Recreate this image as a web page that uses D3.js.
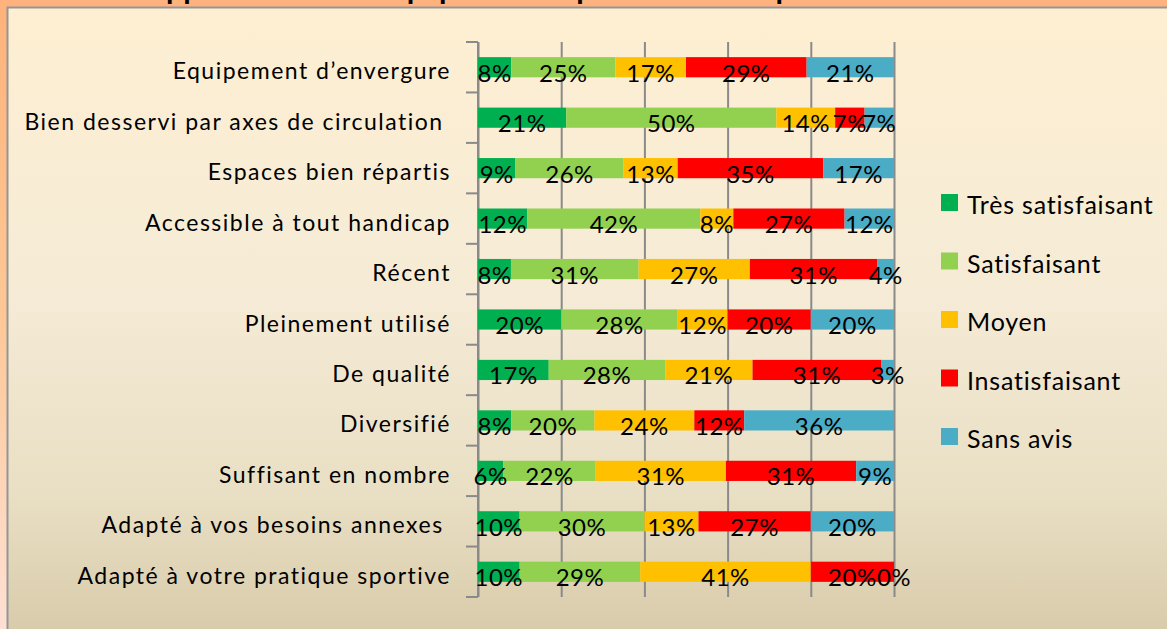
<!DOCTYPE html>
<html>
<head>
<meta charset="utf-8">
<script src="https://cdn.jsdelivr.net/npm/d3@7"></script>
<style>
  html, body { margin: 0; padding: 0; background: #fdb47e; }
  svg { display: block; }
  text { font-family: Lato, "Open Sans", sans-serif; }
</style>
</head>
<body>
<svg id="chart" width="1167" height="629"></svg>
<script>
// ---- data ----
const categories = [
  "Equipement d\u2019envergure",
  "Bien desservi par axes de circulation ",
  "Espaces bien répartis",
  "Accessible à tout handicap",
  "Récent",
  "Pleinement utilisé",
  "De qualité",
  "Diversifié",
  "Suffisant en nombre",
  "Adapté à vos besoins annexes ",
  "Adapté à votre pratique sportive"
];
const seriesNames = ["Très satisfaisant", "Satisfaisant", "Moyen", "Insatisfaisant", "Sans avis"];
const tresSatisfaisant = [8, 21, 9, 12, 8, 20, 17, 8, 6, 10, 10];
const satisfaisant     = [25, 50, 26, 42, 31, 28, 28, 20, 22, 30, 29];
const moyen            = [17, 14, 13, 8, 27, 12, 21, 24, 31, 13, 41];
const insatisfaisant   = [29, 7, 35, 27, 31, 20, 31, 12, 31, 27, 20];
const sansAvis         = [21, 7, 17, 12, 4, 20, 3, 36, 9, 20, 0];
const gridTicks = [0, 0.2, 0.4, 0.6, 0.8, 1];
const title = "Appréciation des équipements sportifs utilisés par les associations";

const colors = ["#00b050", "#92d050", "#ffc000", "#ff0000", "#4bacc6"];
const seriesValues = [tresSatisfaisant, satisfaisant, moyen, insatisfaisant, sansAvis];

const rows = categories.map((c, i) => {
  const r = { cat: c };
  seriesNames.forEach((s, j) => r[s] = seriesValues[j][i]);
  return r;
});

const svg = d3.select("#chart");
const W = 1167, H = 629;

// ---- backgrounds ----
const defs = svg.append("defs");
const og = defs.append("linearGradient").attr("id", "outerG").attr("x1", 0).attr("y1", 0).attr("x2", 0).attr("y2", 1);
og.append("stop").attr("offset", "0%").attr("stop-color", "#fdb27b");
og.append("stop").attr("offset", "50%").attr("stop-color", "#fdc896");
og.append("stop").attr("offset", "100%").attr("stop-color", "#fde0d4");
const pg = defs.append("linearGradient").attr("id", "panelG").attr("x1", 0).attr("y1", 0).attr("x2", 0).attr("y2", 1);
pg.append("stop").attr("offset", "0%").attr("stop-color", "#feefd2");
pg.append("stop").attr("offset", "45%").attr("stop-color", "#f5ebd6");
pg.append("stop").attr("offset", "75%").attr("stop-color", "#e9dfc4");
pg.append("stop").attr("offset", "100%").attr("stop-color", "#d5c8a6");

svg.append("rect").attr("x", 0).attr("y", 0).attr("width", W).attr("height", H).attr("fill", "url(#outerG)");
svg.append("rect").attr("x", 0).attr("y", 0).attr("width", W).attr("height", 8).attr("fill", "#feb37e");

// title (mostly cut off above the page)
svg.append("text").attr("x", 145).attr("y", -0.5)
  .attr("font-size", 26).attr("font-weight", "bold").attr("fill", "#000")
  .attr("textLength", 890).attr("lengthAdjust", "spacingAndGlyphs")
  .text(title);

svg.append("rect").attr("x", 7.5).attr("y", 7.5).attr("width", W + 20).attr("height", H + 20)
  .attr("fill", "url(#panelG)").attr("stroke", "#959595").attr("stroke-width", 2);

// ---- scales ----
const x0 = 478, x1 = 894, yTop = 42, yBot = 597;
const x = d3.scaleLinear().domain([0, 1]).range([x0, x1]);
const y = d3.scaleBand().domain(categories).range([yTop, yBot]).paddingInner(0.6).paddingOuter(0.3);

// gridlines
const grid = svg.append("g").attr("transform", `translate(0,${yTop})`)
  .call(d3.axisTop(x).tickValues(gridTicks).tickSize(-(yBot - yTop)).tickFormat(""));
grid.select(".domain").remove();
grid.selectAll("line").attr("stroke", "#8a8a8a").attr("stroke-width", 2);

// left axis with ticks at category boundaries
const step = y.step();
const boundaries = categories.map(c => y(c) - (step - y.bandwidth()) / 2).concat([yBot]);
const ax = svg.append("g");
ax.append("line").attr("x1", x0).attr("x2", x0).attr("y1", yTop).attr("y2", yBot)
  .attr("stroke", "#8a8a8a").attr("stroke-width", 2);
ax.selectAll("line.tk").data(boundaries).join("line").attr("class", "tk")
  .attr("x1", x0 - 12).attr("x2", x0).attr("y1", d => d).attr("y2", d => d)
  .attr("stroke", "#8a8a8a").attr("stroke-width", 2);

// category labels
svg.append("g").selectAll("text").data(categories).join("text")
  .attr("x", 451).attr("y", d => y(d) + y.bandwidth() / 2 + 3)
  .attr("text-anchor", "end").attr("dominant-baseline", "central")
  .attr("font-size", 23).attr("letter-spacing", 1.5).attr("fill", "#000")
  .style("white-space", "pre")
  .text(d => d);

// ---- stacked bars ----
const stack = d3.stack().keys(seriesNames).offset(d3.stackOffsetExpand);
const stacked = stack(rows);

const layers = svg.append("g").selectAll("g").data(stacked).join("g")
  .attr("fill", (d, i) => colors[i]);
layers.selectAll("rect").data(d => d).join("rect")
  .attr("x", d => x(d[0])).attr("width", d => x(d[1]) - x(d[0]))
  .attr("y", d => y(d.data.cat)).attr("height", y.bandwidth());

// data labels
const lab = svg.append("g");
stacked.forEach((layer, j) => {
  lab.selectAll(null).data(layer).join("text")
    .attr("x", d => (x(d[0]) + x(d[1])) / 2)
    .attr("y", d => y(d.data.cat) + y.bandwidth() / 2 + 5)
    .attr("text-anchor", "middle").attr("dominant-baseline", "central")
    .attr("font-size", 24).attr("letter-spacing", 0.5).attr("fill", "#000")
    .text(d => d.data[layer.key] + "%");
});

// ---- legend ----
const lg = svg.append("g").attr("transform", "translate(941,194)");
const li = lg.selectAll("g").data(seriesNames).join("g")
  .attr("transform", (d, i) => `translate(0,${i * 58.5})`);
li.append("rect").attr("width", 17).attr("height", 17).attr("fill", (d, i) => colors[i]);
li.append("text").attr("x", 26).attr("y", 10).attr("dominant-baseline", "central")
  .attr("font-size", 25).attr("letter-spacing", 0.8).attr("fill", "#000").text(d => d);
</script>
</body>
</html>
